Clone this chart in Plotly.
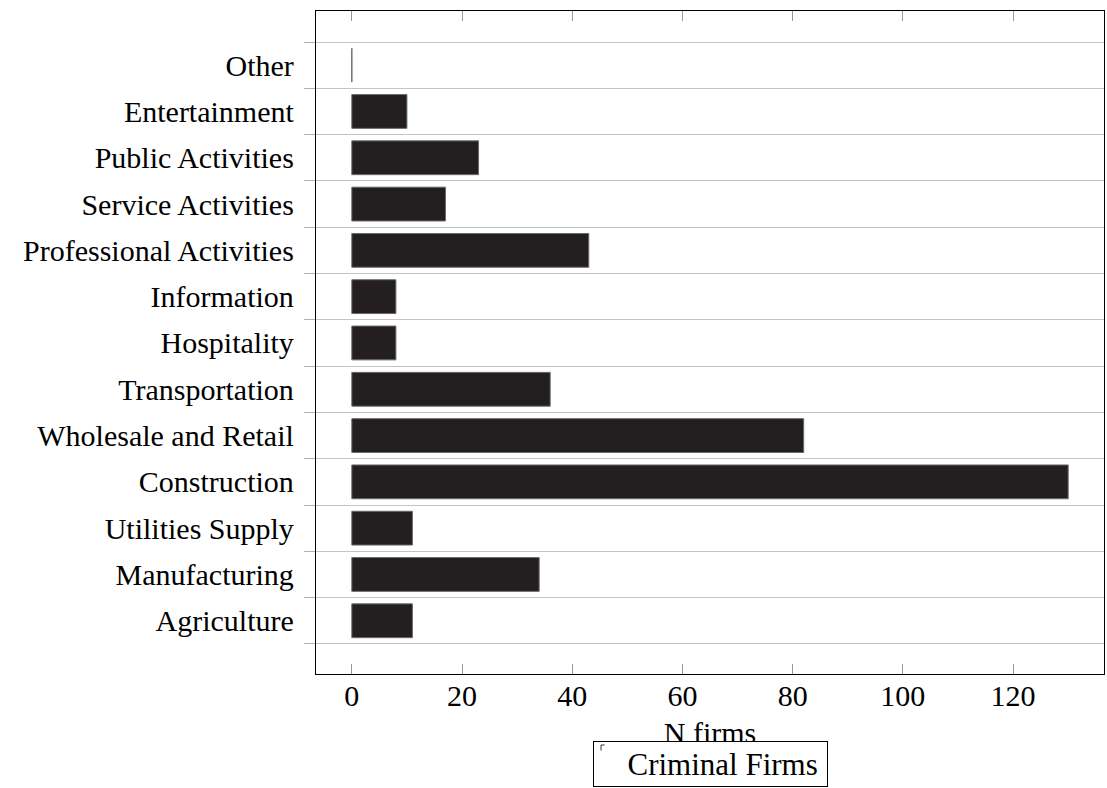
import plotly.graph_objects as go

categories = ["Agriculture", "Manufacturing", "Utilities Supply", "Construction",
              "Wholesale and Retail", "Transportation", "Hospitality", "Information",
              "Professional Activities", "Service Activities", "Public Activities",
              "Entertainment", "Other"]
n_firms = [11, 34, 11, 130, 82, 36, 8, 8, 43, 17, 23, 10, 0]
x_ticks = [0, 20, 40, 60, 80, 100, 120]
series_name = "Criminal Firms"

FONT = "Liberation Serif"
FS = 30

fig = go.Figure()
fig.add_trace(go.Bar(
    x=n_firms, y=categories, orientation="h", name=series_name,
    width=0.73,
    marker=dict(color="#231f20", line=dict(color="#6a6a6a", width=1)),
    showlegend=False,
))

fig.update_layout(
    width=1107, height=788,
    margin=dict(l=316, r=3, t=11, b=114),
    paper_bgcolor="white", plot_bgcolor="white",
    font=dict(family=FONT, size=FS, color="black"),
    xaxis=dict(
        range=[-6.5, 136.5], tickvals=x_ticks, ticktext=[str(v) for v in x_ticks],
        ticks="inside", ticklen=10, tickcolor="#9a9a9a", tickwidth=1,
        showline=True, linecolor="black", linewidth=1.3, mirror="ticks",
        showgrid=False, zeroline=False,
        title=dict(text="N firms", standoff=10, font=dict(family=FONT, size=FS)),
        ticklabelstandoff=-5,
    ),
    yaxis=dict(
        type="category", categoryorder="array", categoryarray=categories,
        range=[-1.15, 13.17], tickson="boundaries",
        ticks="outside", ticklen=11, tickcolor="#b0b0b0", tickwidth=1,
        showgrid=True, gridcolor="#c4c4c4", gridwidth=1,
        showline=True, linecolor="black", linewidth=1.3, mirror=True,
        zeroline=False, ticklabelstandoff=15,
    ),
    showlegend=False,
)

# legend box drawn as an annotation
fig.add_annotation(
    xref="paper", yref="paper", x=0.5, y=-0.101, xanchor="center", yanchor="top",
    text=series_name + "\u2009", showarrow=False, width=227, height=38, align="right",
    font=dict(family=FONT, size=31, color="black"),
    bordercolor="black", borderwidth=1, borderpad=3, bgcolor="white",
)
# tiny legend glyph (drawn on top of the legend box)
for ax, ay in [(0, 7), (5, 0)]:
    fig.add_annotation(
        xref="paper", yref="paper", x=0.3617, y=-0.1071, axref="pixel", ayref="pixel",
        ax=ax, ay=ay, text="", showarrow=True, arrowhead=0, arrowwidth=1,
        arrowcolor="#333333", standoff=0, startstandoff=0,
    )

fig.write_html("out.html", config={"displayModeBar": False},
               post_script="document.body.style.margin='0';")
